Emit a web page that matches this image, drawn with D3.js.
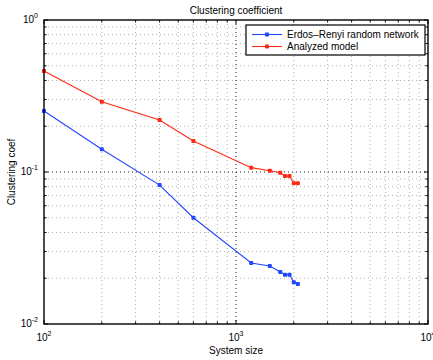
<!DOCTYPE html>
<html>
<head>
<meta charset="utf-8">
<script src="https://cdn.jsdelivr.net/npm/d3@7"></script>
<style>
  body { margin: 0; background: #fff; }
  svg text { font-family: "Liberation Sans", Arial, Helvetica, sans-serif; fill: #000; }
</style>
</head>
<body>
<div class="chart"></div>
<script>
// system sizes and clustering coefficients of both networks
const sizes = [100, 200, 400, 600, 1200, 1500, 1700, 1800, 1900, 2000, 2100];
const erdosRenyi = [0.252, 0.141, 0.082, 0.050, 0.0252, 0.0241, 0.0220, 0.0211, 0.0211, 0.0188, 0.0183];
const analyzed = [0.462, 0.290, 0.220, 0.160, 0.1068, 0.102, 0.0989, 0.094, 0.094, 0.0842, 0.0842];
const seriesNames = ["Erdos\u2013Renyi random network", "Analyzed model"];
const seriesColors = ["#2346ff", "#ff2a14"];
const xTickExp = [2, 3, 4];
const yTickExp = [-2, -1, 0];

const W = 433, H = 360;
const margin = {top: 20, right: 5, bottom: 36, left: 44};
const width = W - margin.left - margin.right;
const height = H - margin.top - margin.bottom;

const svg = d3.select('.chart').append('svg')
    .attr('width', W)
    .attr('height', H);

const g = svg.append('g')
    .attr('transform', `translate(${margin.left},${margin.top})`);

const xScale = d3.scaleLog().domain([1e2, 1e4]).range([0, width]);
const yScale = d3.scaleLog().domain([1e-2, 1e0]).range([height, 0]);

// minor / major positions for grid and ticks
const xMinor = [], yMinor = [];
for (let e = 2; e < 4; e++) for (let k = 2; k <= 9; k++) xMinor.push(k * Math.pow(10, e));
for (let e = -2; e < 0; e++) for (let k = 2; k <= 9; k++) yMinor.push(k * Math.pow(10, e));
const xMajor = xTickExp.map(e => Math.pow(10, e));
const yMajor = yTickExp.map(e => Math.pow(10, e));

// grid
const grid = g.append('g').attr('class', 'grid');
grid.selectAll('.gx-minor').data(xMinor).enter().append('line')
    .attr('x1', d => xScale(d)).attr('x2', d => xScale(d))
    .attr('y1', 0).attr('y2', height)
    .attr('stroke', '#9a9a9a').attr('stroke-width', 0.8).attr('stroke-dasharray', '1,3');
grid.selectAll('.gy-minor').data(yMinor).enter().append('line')
    .attr('x1', 0).attr('x2', width)
    .attr('y1', d => yScale(d)).attr('y2', d => yScale(d))
    .attr('stroke', '#9a9a9a').attr('stroke-width', 0.8).attr('stroke-dasharray', '1,3');
grid.selectAll('.gx-major').data(xMajor.slice(1, -1)).enter().append('line')
    .attr('x1', d => xScale(d)).attr('x2', d => xScale(d))
    .attr('y1', 0).attr('y2', height)
    .attr('stroke', '#000').attr('stroke-width', 0.9).attr('stroke-dasharray', '1,3');
grid.selectAll('.gy-major').data(yMajor.slice(1, -1)).enter().append('line')
    .attr('x1', 0).attr('x2', width)
    .attr('y1', d => yScale(d)).attr('y2', d => yScale(d))
    .attr('stroke', '#000').attr('stroke-width', 0.9).attr('stroke-dasharray', '1,3');

// inward ticks on all four sides
const ticks = g.append('g').attr('stroke', '#000').attr('stroke-width', 1);
[[xMajor, 4], [xMinor, 2.5]].forEach(([vals, len]) => {
  vals.forEach(v => {
    ticks.append('line').attr('x1', xScale(v)).attr('x2', xScale(v)).attr('y1', height).attr('y2', height - len);
    ticks.append('line').attr('x1', xScale(v)).attr('x2', xScale(v)).attr('y1', 0).attr('y2', len);
  });
});
[[yMajor, 4], [yMinor, 2.5]].forEach(([vals, len]) => {
  vals.forEach(v => {
    ticks.append('line').attr('y1', yScale(v)).attr('y2', yScale(v)).attr('x1', 0).attr('x2', len);
    ticks.append('line').attr('y1', yScale(v)).attr('y2', yScale(v)).attr('x1', width).attr('x2', width - len);
  });
});

// series
const series = [erdosRenyi, analyzed];
const line = d3.line().x(d => xScale(d[0])).y(d => yScale(d[1]));
series.forEach((vals, i) => {
  const pts = sizes.map((s, j) => [s, vals[j]]);
  g.append('path')
      .datum(pts)
      .attr('d', line)
      .attr('fill', 'none')
      .attr('stroke', seriesColors[i])
      .attr('stroke-width', 1.1);
  g.selectAll('.pt' + i).data(pts).enter().append('rect')
      .attr('x', d => xScale(d[0]) - 2)
      .attr('y', d => yScale(d[1]) - 2)
      .attr('width', 4).attr('height', 4)
      .attr('rx', 0.8)
      .attr('fill', seriesColors[i]);
});

// box
g.append('rect')
    .attr('x', 0).attr('y', 0)
    .attr('width', width).attr('height', height)
    .attr('fill', 'none').attr('stroke', '#000').attr('stroke-width', 1.4);

// tick labels with superscripts
function powLabel(sel, exp) {
  sel.append('tspan').text('10');
  sel.append('tspan').attr('dy', -5).attr('font-size', '7px').text(exp);
}
xTickExp.forEach(e => {
  const t = g.append('text')
      .attr('x', xScale(Math.pow(10, e)))
      .attr('y', height + 17)
      .attr('text-anchor', 'middle')
      .attr('font-size', '10px');
  powLabel(t, e);
});
yTickExp.forEach(e => {
  const t = g.append('text')
      .attr('x', -6)
      .attr('y', yScale(Math.pow(10, e)) + 3)
      .attr('text-anchor', 'end')
      .attr('font-size', '10px');
  powLabel(t, e);
});

// titles
g.append('text')
    .attr('x', width / 2).attr('y', -6)
    .attr('text-anchor', 'middle')
    .attr('font-size', '10px')
    .text('Clustering coefficient');
g.append('text')
    .attr('x', width / 2).attr('y', height + 30)
    .attr('text-anchor', 'middle')
    .attr('font-size', '10px')
    .text('System size');
g.append('text')
    .attr('transform', `translate(${-29},${height / 2}) rotate(-90)`)
    .attr('text-anchor', 'middle')
    .attr('font-size', '10px')
    .text('Clustering coef');

// legend
const legend = g.append('g').attr('transform', `translate(${width - 182},5)`);
legend.append('rect')
    .attr('x', 0).attr('y', 0).attr('width', 179).attr('height', 30)
    .attr('fill', '#fff').attr('stroke', '#000').attr('stroke-width', 1.2);
seriesNames.forEach((name, i) => {
  const y = 9.5 + i * 12;
  legend.append('line')
      .attr('x1', 6).attr('x2', 36).attr('y1', y).attr('y2', y)
      .attr('stroke', seriesColors[i]).attr('stroke-width', 1.1);
  legend.append('rect')
      .attr('x', 19).attr('y', y - 2).attr('width', 4).attr('height', 4)
      .attr('rx', 0.8)
      .attr('fill', seriesColors[i]);
  legend.append('text')
      .attr('x', 41).attr('y', y + 3.5)
      .attr('font-size', '10px')
      .text(name);
});
</script>
</body>
</html>
